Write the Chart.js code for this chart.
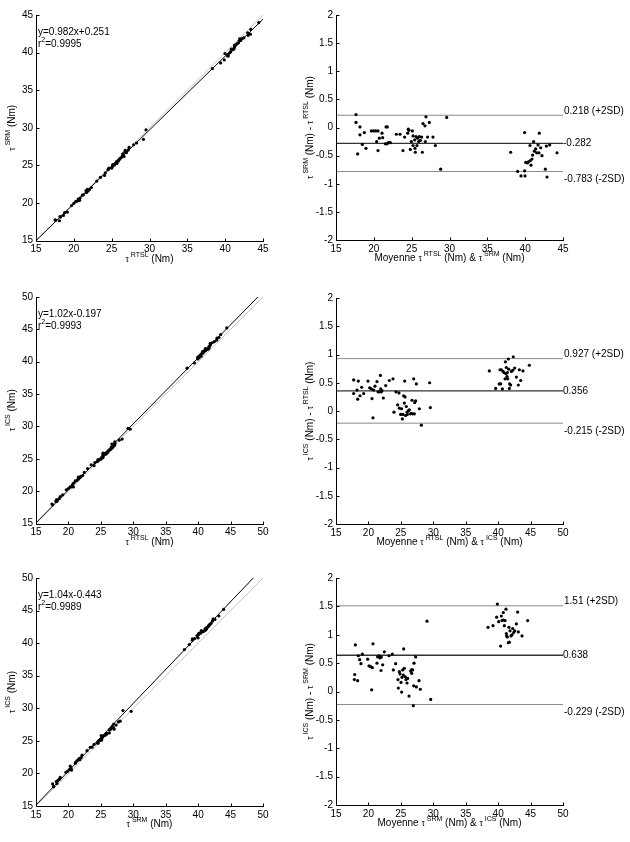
<!DOCTYPE html>
<html><head><meta charset="utf-8">
<script src="https://cdn.jsdelivr.net/npm/chart.js@4.4.0/dist/chart.umd.min.js"></script>
<style>
html,body{margin:0;padding:0;background:#fff;}
#wrap{position:relative;width:630px;height:842px;overflow:hidden;}
canvas{position:absolute;}
</style></head><body><div id="wrap">
<canvas id="c1" width="300" height="280" style="left:0;top:0"></canvas>
<canvas id="c2" width="330" height="280" style="left:300px;top:0"></canvas>
<canvas id="c3" width="300" height="280" style="left:0;top:280px"></canvas>
<canvas id="c4" width="330" height="280" style="left:300px;top:280px"></canvas>
<canvas id="c5" width="300" height="280" style="left:0;top:560px"></canvas>
<canvas id="c6" width="330" height="280" style="left:300px;top:560px"></canvas>
</div>
<script>
// ---------- DATA ----------
// Panel 1: tau SRM vs tau RTSL
const p1_rtsl = [17.52,17.60,18.10,18.17,18.24,18.63,18.79,19.15,19.70,20.01,20.27,20.58,20.50,20.76,20.83,21.13,21.26,21.67,21.61,21.78,21.89,22.06,22.32,23.03,23.52,24.06,24.16,24.52,24.58,24.68,25.02,25.09,25.12,25.26,25.34,25.51,25.63,25.70,25.65,25.86,25.89,26.05,26.09,26.27,26.41,26.63,26.47,26.75,26.94,26.80,27.20,27.29,27.91,28.29,29.20,29.54,38.30,39.40,39.88,39.98,40.41,40.32,40.38,40.61,40.73,40.80,40.98,41.11,41.18,41.24,41.25,41.42,41.58,41.75,41.86,42.06,41.92,42.23,42.47,43.04,42.97,43.33,43.40,44.44];
const p1_srm  = [17.76,17.68,17.63,18.18,18.11,18.33,18.70,18.78,19.64,19.95,20.21,20.52,20.25,20.35,20.64,21.03,21.08,21.38,21.62,21.79,21.60,21.79,22.05,22.91,23.40,23.65,23.99,24.42,24.55,24.63,24.63,24.84,25.06,25.11,25.02,25.29,25.26,25.26,25.49,25.54,25.70,25.80,25.93,26.04,26.24,26.19,26.54,26.78,26.69,26.99,27.03,27.38,27.74,27.97,28.46,29.72,37.86,38.62,39.02,39.89,39.55,39.55,39.76,39.98,40.12,40.48,40.39,40.44,40.62,40.75,41.00,41.00,41.20,41.30,41.55,41.61,41.82,41.87,41.97,42.30,42.64,42.45,43.09,43.99];
const fit1_x = [15, 45], fit1_y = [14.98, 44.44];
const id1_x = [15, 45], id1_y = [15, 45];
const fit1_text = ['y=0.982x+0.251', '0.9995'];

// Panel 2: Bland-Altman SRM - RTSL
const ba1_mean = [17.64,17.64,17.86,18.17,18.17,18.48,18.74,18.96,19.67,19.98,20.24,20.55,20.37,20.55,20.73,21.08,21.17,21.52,21.61,21.78,21.74,21.92,22.18,22.97,23.46,23.85,24.07,24.47,24.56,24.65,24.82,24.96,25.09,25.18,25.18,25.40,25.44,25.48,25.57,25.70,25.79,25.92,26.01,26.15,26.32,26.41,26.50,26.76,26.81,26.89,27.11,27.33,27.82,28.13,28.83,29.63,38.08,39.01,39.45,39.93,39.98,39.93,40.07,40.29,40.42,40.64,40.68,40.77,40.90,40.99,41.12,41.21,41.39,41.52,41.70,41.83,41.87,42.05,42.22,42.67,42.80,42.89,43.24,44.21];
const ba1_diff = [0.23,0.09,-0.47,0.01,-0.13,-0.30,-0.09,-0.37,-0.06,-0.06,-0.06,-0.06,-0.25,-0.41,-0.19,-0.10,-0.18,-0.29,0.01,0.01,-0.29,-0.27,-0.27,-0.12,-0.12,-0.41,-0.17,-0.10,-0.03,-0.05,-0.39,-0.25,-0.06,-0.15,-0.32,-0.22,-0.37,-0.44,-0.16,-0.32,-0.19,-0.25,-0.16,-0.23,-0.17,-0.44,0.07,0.03,-0.25,0.19,-0.17,0.09,-0.17,-0.32,-0.74,0.18,-0.44,-0.78,-0.86,-0.09,-0.86,-0.77,-0.62,-0.63,-0.61,-0.32,-0.59,-0.67,-0.56,-0.49,-0.25,-0.42,-0.38,-0.45,-0.31,-0.45,-0.10,-0.36,-0.50,-0.74,-0.33,-0.88,-0.31,-0.45];
const ba1_levels = [0.218, -0.282, -0.783];
const ba1_labels = ['0.218 (+2SD)', '-0.282', '-0.783 (-2SD)'];

// Panel 3: tau ICS vs tau RTSL
const p3_rtsl = [17.45,17.57,18.06,18.24,18.18,18.57,18.75,19.12,19.67,19.99,20.26,20.44,20.76,20.63,20.79,21.06,21.31,21.51,21.53,21.70,21.82,21.91,22.19,22.44,22.95,23.51,23.95,24.08,24.46,24.55,24.75,25.00,25.10,25.30,25.36,25.30,25.47,25.33,25.52,25.78,25.80,25.96,26.03,26.20,26.30,26.49,26.64,26.63,26.85,26.70,27.11,27.06,27.19,27.15,27.83,28.29,29.19,29.52,38.29,39.42,39.94,39.93,40.15,40.13,40.46,40.40,40.56,40.78,40.68,40.88,40.88,41.07,41.08,41.19,41.11,41.25,41.53,41.54,41.70,41.69,41.88,41.86,42.17,42.51,42.88,42.91,43.20,43.48,44.41];
const p3_ics  = [18.00,17.88,18.43,18.45,18.71,18.84,19.17,19.43,20.20,20.40,20.65,20.66,20.64,21.00,21.23,21.58,21.65,21.85,22.16,22.09,22.16,22.27,22.42,22.89,23.49,24.08,23.93,24.42,24.57,24.87,24.80,24.94,25.14,25.16,25.30,25.57,25.61,25.86,25.77,25.70,25.88,25.94,25.97,26.21,26.32,26.44,26.60,26.82,26.80,27.27,27.06,27.21,27.37,27.63,27.87,28.04,29.69,29.58,39.00,39.82,40.42,40.66,40.63,40.86,40.85,41.10,41.24,41.35,41.55,41.54,41.65,41.68,41.76,41.76,42.03,41.99,41.93,42.02,42.16,42.39,42.60,42.82,42.93,43.11,43.34,43.64,43.74,44.19,45.22];
const fit3_x = [15, 49.21], fit3_y = [15.10, 50];
const id3_x = [15, 50], id3_y = [15, 50];
const fit3_text = ['y=1.02x-0.197', '0.9993'];

// Panel 4: Bland-Altman ICS - RTSL
const ba2_mean = [17.72,17.72,18.24,18.34,18.44,18.70,18.96,19.27,19.93,20.19,20.45,20.55,20.70,20.81,21.01,21.32,21.48,21.68,21.84,21.89,21.99,22.09,22.30,22.66,23.22,23.79,23.94,24.25,24.51,24.71,24.77,24.97,25.12,25.23,25.33,25.43,25.54,25.59,25.64,25.74,25.84,25.95,26.00,26.20,26.31,26.46,26.62,26.72,26.82,26.98,27.08,27.13,27.28,27.39,27.85,28.16,29.44,29.55,38.64,39.62,40.18,40.29,40.39,40.49,40.65,40.75,40.90,41.06,41.11,41.21,41.26,41.37,41.42,41.47,41.57,41.62,41.73,41.78,41.93,42.04,42.24,42.34,42.55,42.81,43.11,43.27,43.47,43.83,44.81];
const ba2_diff = [0.55,0.31,0.37,0.21,0.53,0.27,0.42,0.31,0.53,0.41,0.39,0.22,-0.12,0.37,0.44,0.52,0.34,0.34,0.63,0.39,0.34,0.36,0.23,0.45,0.54,0.57,-0.02,0.34,0.11,0.32,0.05,-0.06,0.04,-0.14,-0.06,0.27,0.14,0.53,0.25,-0.08,0.08,-0.02,-0.06,0.01,0.02,-0.05,-0.04,0.19,-0.05,0.57,-0.05,0.15,0.18,0.48,0.04,-0.25,0.50,0.06,0.71,0.40,0.48,0.73,0.48,0.73,0.39,0.70,0.68,0.57,0.87,0.66,0.77,0.61,0.68,0.57,0.92,0.74,0.40,0.48,0.46,0.70,0.72,0.96,0.76,0.60,0.46,0.73,0.54,0.71,0.81];
const ba2_levels = [0.927, 0.356, -0.215];
const ba2_labels = ['0.927 (+2SD)', '0.356', '-0.215 (-2SD)'];

// Panel 5: tau ICS vs tau SRM
const p5_srm = [17.57,17.73,17.73,18.25,18.13,18.37,18.61,18.73,19.60,19.87,20.13,20.49,20.39,20.28,21.07,21.12,21.32,21.49,21.76,21.69,21.97,22.10,22.86,23.36,23.65,23.96,24.46,24.58,24.60,24.72,24.94,25.13,25.06,25.09,25.24,25.06,25.34,25.56,25.69,25.88,25.94,26.30,26.33,26.43,26.51,26.63,27.05,26.93,26.78,26.98,27.35,27.71,27.98,28.41,29.67,37.88,38.63,39.12,39.11,39.47,39.99,39.83,39.97,40.11,40.17,40.37,40.44,40.49,40.75,40.82,40.94,41.14,41.11,41.30,41.30,41.49,41.64,41.69,41.87,42.02,42.22,42.31,42.59,43.19,43.93];
const p5_ics = [18.39,18.03,17.94,18.44,18.76,18.93,19.10,19.39,20.17,20.32,20.57,20.52,20.81,21.12,21.57,21.73,21.95,22.08,22.13,22.30,22.44,22.80,23.49,24.02,24.03,24.45,24.67,24.64,24.95,25.03,25.10,25.12,25.31,25.47,25.53,25.81,25.75,25.82,25.90,26.03,26.17,26.22,26.69,26.81,26.83,27.01,26.80,27.03,27.28,27.59,27.43,27.90,28.02,29.65,29.53,39.01,39.79,40.43,40.65,40.70,40.79,41.16,41.22,41.50,41.43,41.53,41.69,41.94,41.77,41.80,41.90,42.00,42.24,42.17,42.37,42.47,42.64,42.80,42.91,43.09,43.41,43.71,43.64,44.17,45.18];
const fit5_x = [15, 48.50], fit5_y = [15.16, 50];
const id5_x = [15, 50], id5_y = [15, 50];
const fit5_text = ['y=1.04x-0.443', '0.9989'];

// Panel 6: Bland-Altman ICS - SRM
const ba3_mean = [17.98,17.88,17.83,18.34,18.44,18.65,18.85,19.06,19.88,20.09,20.35,20.50,20.60,20.70,21.32,21.42,21.63,21.78,21.94,21.99,22.20,22.45,23.17,23.69,23.84,24.20,24.56,24.61,24.77,24.87,25.02,25.12,25.18,25.28,25.38,25.43,25.54,25.69,25.79,25.95,26.05,26.26,26.51,26.62,26.67,26.82,26.92,26.98,27.03,27.28,27.39,27.80,28.00,29.03,29.60,38.44,39.21,39.77,39.88,40.08,40.39,40.49,40.59,40.80,40.80,40.95,41.06,41.21,41.26,41.31,41.42,41.57,41.67,41.73,41.83,41.98,42.14,42.24,42.39,42.55,42.81,43.01,43.11,43.68,44.55];
const ba3_diff = [0.82,0.30,0.21,0.19,0.63,0.56,0.49,0.66,0.57,0.45,0.44,0.03,0.42,0.84,0.50,0.61,0.63,0.59,0.37,0.61,0.47,0.70,0.63,0.66,0.38,0.49,0.21,0.06,0.35,0.31,0.16,-0.01,0.25,0.38,0.29,0.75,0.41,0.26,0.21,0.15,0.23,-0.08,0.36,0.38,0.32,0.38,-0.25,0.10,0.50,0.61,0.08,0.19,0.04,1.24,-0.14,1.13,1.16,1.31,1.54,1.23,0.80,1.33,1.25,1.39,1.26,1.16,1.25,1.45,1.02,0.98,0.96,0.86,1.13,0.87,1.07,0.98,1.00,1.11,1.04,1.07,1.19,1.40,1.05,0.98,1.25];
const ba3_levels = [1.51, 0.638, -0.229];
const ba3_labels = ['1.51 (+2SD)', '0.638', '-0.229 (-2SD)'];

// Axis ranges / tick steps
const scatterRange1 = [15, 45], scatterRange2 = [15, 50];
const baYRange = [-2, 2];
const scatterStep = 5, baYStep = 0.5;

// ---------- RENDERING ----------
const FONT = "'Liberation Sans', Arial, Helvetica, sans-serif";
const MAIN = 10, SUP = 7, TAU = 8.5;
Chart.defaults.font.family = FONT;
Chart.defaults.font.size = MAIN;
Chart.defaults.color = '#000';

const zip = (xs, ys) => xs.map((x, i) => ({x: x, y: ys[i]}));

function drawRich(ctx, parts, x, y, rotate, align) {
  ctx.save();
  ctx.translate(x, y);
  if (rotate) ctx.rotate(-Math.PI / 2);
  const fontFor = k => (k === 's' ? SUP : k === 't' ? TAU : MAIN) + 'px ' + FONT;
  let total = 0;
  const ws = parts.map(p => { ctx.font = fontFor(p[1]); const w = ctx.measureText(p[0]).width; total += w; return w; });
  let cx = align === 'left' ? 0 : -total / 2;
  ctx.textAlign = 'left';
  ctx.textBaseline = 'alphabetic';
  ctx.fillStyle = '#000';
  parts.forEach((p, i) => {
    ctx.font = fontFor(p[1]);
    const dy = p[1] === 's' ? -5 : 0;
    ctx.fillText(p[0], cx, dy);
    cx += ws[i];
  });
  ctx.restore();
}

const deco = {
  id: 'deco',
  afterDraw(chart, args, o) {
    const ctx = chart.ctx, a = chart.chartArea, xs = chart.scales.x, ys = chart.scales.y;
    ctx.save();
    ctx.strokeStyle = '#000';
    ctx.lineWidth = 1;
    ctx.beginPath();
    const L = Math.round(a.left) + 0.5, B = Math.round(a.bottom) + 0.5;
    ctx.moveTo(L, Math.round(a.top));
    ctx.lineTo(L, B);
    ctx.lineTo(Math.round(a.right) + 1, B);
    xs.ticks.forEach(t => { const px = Math.round(xs.getPixelForValue(t.value)) + 0.5; ctx.moveTo(px, B); ctx.lineTo(px, B - 3); });
    ys.ticks.forEach(t => { const py = Math.round(ys.getPixelForValue(t.value)) + 0.5; ctx.moveTo(L, py); ctx.lineTo(L + 3, py); });
    ctx.stroke();
    drawRich(ctx, o.xTitle, (a.left + a.right) / 2, a.bottom + 21, false);
    drawRich(ctx, o.yTitle, o.yTitleX, (a.top + a.bottom) / 2, true);
    if (o.fitText) {
      drawRich(ctx, [[o.fitText[0], 'n']], a.left + 2, a.top + 19.5, false, 'left');
      drawRich(ctx, [['r', 'n'], ['2', 's'], ['=' + o.fitText[1], 'n']], a.left + 2, a.top + 31.5, false, 'left');
    }
    if (o.baLevels) {
      ctx.font = MAIN + 'px ' + FONT;
      ctx.fillStyle = '#000';
      ctx.textAlign = 'left';
      o.baLevels.forEach((v, i) => {
        const py = ys.getPixelForValue(v);
        if (i === 0) { ctx.textBaseline = 'alphabetic'; ctx.fillText(o.baLabels[i], a.right + 1, py - 1.5); }
        else if (i === 1) { ctx.textBaseline = 'middle'; ctx.fillText(o.baLabels[i], a.right, py); }
        else { ctx.textBaseline = 'top'; ctx.fillText(o.baLabels[i], a.right + 1, py + 3); }
      });
    }
    ctx.restore();
  }
};

function make(id, p) {
  const cv = document.getElementById(id);
  const W = cv.width, H = cv.height;
  const padTop = p.area[1] - p.top;
  const padRight = (p.left + W) - p.area[2];
  const yW = p.area[0] - p.left;
  const xH = (p.top + H) - p.area[3];
  new Chart(cv, {
    type: 'scatter',
    data: { datasets: p.datasets },
    plugins: [deco],
    options: {
      responsive: false, animation: false, devicePixelRatio: 1,
      layout: { padding: { left: 0, top: padTop, right: padRight, bottom: 0 } },
      plugins: { legend: { display: false }, tooltip: { enabled: false }, deco: p.deco },
      scales: {
        x: {
          type: 'linear', min: p.xr[0], max: p.xr[1],
          ticks: { stepSize: p.xs, padding: 3, maxRotation: 0, autoSkip: false, color: '#000', callback: v => String(v) },
          grid: { display: false, drawTicks: false }, border: { display: false },
          afterFit: s => { s.height = xH; }
        },
        y: {
          type: 'linear', min: p.yr[0], max: p.yr[1],
          ticks: { stepSize: p.ys, padding: 3, autoSkip: false, color: '#000', callback: v => String(v) },
          grid: { display: false, drawTicks: false }, border: { display: false },
          afterFit: s => { s.width = yW; }
        }
      }
    }
  });
}

function scatterSets(xs, ys, fx, fy, ix, iy) {
  return [
    { data: zip(xs, ys), backgroundColor: '#000', borderColor: '#000', pointRadius: 1.6, pointBorderWidth: 0, order: 0 },
    { data: zip(fx, fy), showLine: true, borderColor: '#000', borderWidth: 1, pointRadius: 0, order: 1 },
    { data: zip(ix, iy), showLine: true, borderColor: '#c4c4c4', borderWidth: 1, pointRadius: 0, order: 2 }
  ];
}
function baSets(mx, dy, levels, xmax) {
  const ds = [{ data: zip(mx, dy), backgroundColor: '#000', borderColor: '#000', pointRadius: 1.6, pointBorderWidth: 0, order: 0 }];
  levels.forEach((v, i) => {
    ds.push({ data: [{x: 15, y: v}, {x: xmax, y: v}], showLine: true,
      borderColor: i === 1 ? '#333' : '#8a8a8a', borderWidth: i === 1 ? 1.4 : 1, pointRadius: 0, order: 1 });
  });
  return ds;
}

const tauX = (sup) => [['τ', 't'], [' ' + sup, 's'], [' (Nm)', 'n']];

make('c1', { left: 0, top: 0, area: [36, 15, 263, 240.5], xr: scatterRange1, yr: scatterRange1, xs: scatterStep, ys: scatterStep,
  datasets: scatterSets(p1_rtsl, p1_srm, fit1_x, fit1_y, id1_x, id1_y),
  deco: { xTitle: tauX('RTSL'), yTitle: tauX('SRM'), yTitleX: 15, fitText: fit1_text } });

make('c2', { left: 300, top: 0, area: [336, 15, 563, 240], xr: scatterRange1, yr: baYRange, xs: scatterStep, ys: baYStep,
  datasets: baSets(ba1_mean, ba1_diff, ba1_levels, scatterRange1[1]),
  deco: { xTitle: [['Moyenne ', 'n'], ['τ', 't'], [' RTSL', 's'], [' (Nm) & ', 'n'], ['τ', 't'], [' SRM', 's'], [' (Nm)', 'n']],
          yTitle: [['τ', 't'], [' SRM', 's'], [' (Nm) - ', 'n'], ['τ', 't'], [' RTSL', 's'], [' (Nm)', 'n']], yTitleX: 13,
          baLevels: ba1_levels, baLabels: ba1_labels } });

make('c3', { left: 0, top: 280, area: [36, 297, 263, 523.5], xr: scatterRange2, yr: scatterRange2, xs: scatterStep, ys: scatterStep,
  datasets: scatterSets(p3_rtsl, p3_ics, fit3_x, fit3_y, id3_x, id3_y),
  deco: { xTitle: tauX('RTSL'), yTitle: tauX('ICS'), yTitleX: 15, fitText: fit3_text } });

make('c4', { left: 300, top: 280, area: [336, 298, 563, 524], xr: scatterRange2, yr: baYRange, xs: scatterStep, ys: baYStep,
  datasets: baSets(ba2_mean, ba2_diff, ba2_levels, scatterRange2[1]),
  deco: { xTitle: [['Moyenne ', 'n'], ['τ', 't'], [' RTSL', 's'], [' (Nm) & ', 'n'], ['τ', 't'], [' ICS', 's'], [' (Nm)', 'n']],
          yTitle: [['τ', 't'], [' ICS', 's'], [' (Nm) - ', 'n'], ['τ', 't'], [' RTSL', 's'], [' (Nm)', 'n']], yTitleX: 13,
          baLevels: ba2_levels, baLabels: ba2_labels } });

make('c5', { left: 0, top: 560, area: [36, 578, 263, 806], xr: scatterRange2, yr: scatterRange2, xs: scatterStep, ys: scatterStep,
  datasets: scatterSets(p5_srm, p5_ics, fit5_x, fit5_y, id5_x, id5_y),
  deco: { xTitle: tauX('SRM'), yTitle: tauX('ICS'), yTitleX: 15, fitText: fit5_text } });

make('c6', { left: 300, top: 560, area: [336, 578, 563, 805], xr: scatterRange2, yr: baYRange, xs: scatterStep, ys: baYStep,
  datasets: baSets(ba3_mean, ba3_diff, ba3_levels, scatterRange2[1]),
  deco: { xTitle: [['Moyenne ', 'n'], ['τ', 't'], [' SRM', 's'], [' (Nm) & ', 'n'], ['τ', 't'], [' ICS', 's'], [' (Nm)', 'n']],
          yTitle: [['τ', 't'], [' ICS', 's'], [' (Nm) - ', 'n'], ['τ', 't'], [' SRM', 's'], [' (Nm)', 'n']], yTitleX: 13,
          baLevels: ba3_levels, baLabels: ba3_labels } });
</script>
</body></html>
